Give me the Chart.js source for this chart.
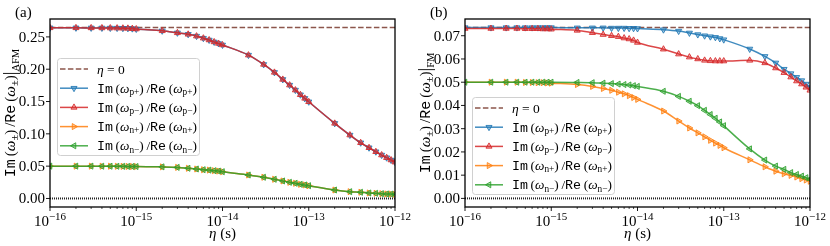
<!DOCTYPE html>
<html>
<head>
<meta charset="utf-8">
<script src="https://cdn.jsdelivr.net/npm/chart.js@4.4.0/dist/chart.umd.min.js"></script>
<style>
  html, body { margin: 0; padding: 0; background: #fff; }
  #wrap { position: relative; width: 830px; height: 246px; }
  .panel { position: absolute; top: 0; width: 415px; height: 246px; }
</style>
</head>
<body>
<div id="wrap">
  <div class="panel" style="left:0"><canvas id="chartA" width="415" height="246"></canvas></div>
  <div class="panel" style="left:415px"><canvas id="chartB" width="415" height="246"></canvas></div>
</div>
<script>
// damping eta (s), markers at 1..9 per decade
const eta = [
  1e-16, 2e-16, 3e-16, 4e-16, 5e-16, 6e-16, 7e-16, 8e-16, 9e-16,
  1e-15, 2e-15, 3e-15, 4e-15, 5e-15, 6e-15, 7e-15, 8e-15, 9e-15,
  1e-14, 2e-14, 3e-14, 4e-14, 5e-14, 6e-14, 7e-14, 8e-14, 9e-14,
  1e-13, 2e-13, 3e-13, 4e-13, 5e-13, 6e-13, 7e-13, 8e-13, 9e-13,
  1e-12,
];

// (a) AFM
const afmPPlus = [
  0.2640, 0.2640, 0.2639, 0.2638, 0.2637, 0.2636, 0.2634, 0.2632, 0.2628,
  0.2622, 0.2594, 0.2563, 0.2540, 0.2512, 0.2480, 0.2452, 0.2422, 0.2398,
  0.2375, 0.2218, 0.2074, 0.1951, 0.1842, 0.1754, 0.1677, 0.1605, 0.1549,
  0.1496, 0.1162, 0.0981, 0.0862, 0.0785, 0.0723, 0.0672, 0.0631, 0.0595,
  0.0562,
];
const afmPMinus = [
  0.2640, 0.2640, 0.2639, 0.2638, 0.2637, 0.2636, 0.2634, 0.2632, 0.2628,
  0.2622, 0.2594, 0.2563, 0.2540, 0.2512, 0.2480, 0.2452, 0.2422, 0.2398,
  0.2375, 0.2218, 0.2074, 0.1951, 0.1842, 0.1754, 0.1677, 0.1605, 0.1549,
  0.1496, 0.1162, 0.0981, 0.0862, 0.0785, 0.0723, 0.0672, 0.0631, 0.0595,
  0.0562,
];
const afmNPlus = [
  0.0500, 0.0500, 0.0500, 0.0499, 0.0499, 0.0498, 0.0497, 0.0496, 0.0495,
  0.0494, 0.0489, 0.0481, 0.0467, 0.0456, 0.0445, 0.0439, 0.0430, 0.0424,
  0.0414, 0.0363, 0.0328, 0.0297, 0.0271, 0.0250, 0.0235, 0.0219, 0.0209,
  0.0198, 0.0131, 0.0105, 0.0096, 0.0085, 0.0080, 0.0074, 0.0070, 0.0068,
  0.0065,
];
const afmNMinus = [
  0.0500, 0.0500, 0.0500, 0.0499, 0.0499, 0.0498, 0.0497, 0.0496, 0.0495,
  0.0494, 0.0489, 0.0481, 0.0467, 0.0456, 0.0445, 0.0439, 0.0430, 0.0424,
  0.0414, 0.0363, 0.0328, 0.0297, 0.0271, 0.0250, 0.0235, 0.0219, 0.0209,
  0.0198, 0.0131, 0.0105, 0.0096, 0.0085, 0.0080, 0.0074, 0.0070, 0.0068,
  0.0065,
];
const afmEtaZero = 0.2645;

// (b) FM
const fmPPlus = [
  0.0735, 0.0735, 0.0735, 0.0735, 0.0735, 0.0735, 0.0735, 0.0735, 0.0735,
  0.0735, 0.0734, 0.0734, 0.0734, 0.0733, 0.0733, 0.0733, 0.0732, 0.0732,
  0.0731, 0.0726, 0.0720, 0.0712, 0.0705, 0.0700, 0.0696, 0.0693, 0.0688,
  0.0683, 0.0643, 0.0611, 0.0583, 0.0556, 0.0537, 0.0521, 0.0507, 0.0492,
  0.0477,
];
const fmPMinus = [
  0.0731, 0.0731, 0.0731, 0.0731, 0.0730, 0.0730, 0.0730, 0.0729, 0.0729,
  0.0728, 0.0723, 0.0713, 0.0705, 0.0700, 0.0696, 0.0690, 0.0686, 0.0680,
  0.0671, 0.0642, 0.0621, 0.0608, 0.0600, 0.0594, 0.0592, 0.0591, 0.0591,
  0.0591, 0.0594, 0.0583, 0.0561, 0.0541, 0.0522, 0.0505, 0.0492, 0.0478,
  0.0465,
];
const fmNPlus = [
  0.0500, 0.0500, 0.0500, 0.0500, 0.0499, 0.0499, 0.0498, 0.0498, 0.0497,
  0.0496, 0.0490, 0.0482, 0.0473, 0.0465, 0.0457, 0.0450, 0.0442, 0.0434,
  0.0426, 0.0376, 0.0333, 0.0303, 0.0282, 0.0265, 0.0250, 0.0238, 0.0228,
  0.0218, 0.0166, 0.0136, 0.0117, 0.0106, 0.0099, 0.0092, 0.0085, 0.0079,
  0.0074,
];
const fmNMinus = [
  0.0500, 0.0500, 0.0500, 0.0500, 0.0500, 0.0500, 0.0500, 0.0500, 0.0500,
  0.0500, 0.0499, 0.0498, 0.0496, 0.0494, 0.0492, 0.0490, 0.0488, 0.0485,
  0.0482, 0.0461, 0.0439, 0.0418, 0.0399, 0.0379, 0.0361, 0.0345, 0.0329,
  0.0313, 0.0213, 0.0165, 0.0139, 0.0125, 0.0111, 0.0103, 0.0096, 0.0089,
  0.0083,
];
const fmEtaZero = 0.0735;

// ticks
const xMajorTicks = [1e-16, 1e-15, 1e-14, 1e-13, 1e-12];
const xTickExponents = ['\u221216', '\u221215', '\u221214', '\u221213', '\u221212'];
const yTicksA = [0.00, 0.05, 0.10, 0.15, 0.20, 0.25];
const yTicksB = [0.00, 0.01, 0.02, 0.03, 0.04, 0.05, 0.06, 0.07];
const seriesSubs = ['p+', 'p\u2212', 'n+', 'n\u2212'];

const SERIF = '"Liberation Serif", "DejaVu Serif", serif';
const MONO = '"Liberation Mono", "DejaVu Sans Mono", monospace';

const colors = [
  [31, 119, 180],   // p+
  [214, 39, 40],    // p-
  [255, 127, 14],   // n+
  [44, 160, 44],    // n-
];
const rotations = [180, 0, 90, 270];
const BROWN = '#8c564b';

function rgba(c, a) {
  return `rgba(${c[0]},${c[1]},${c[2]},${a})`;
}

function font(size, family, style) {
  return (style ? style + ' ' : '') + size + 'px ' + family;
}

function drawRich(ctx, segs, x, y, align) {
  let w = 0;
  segs.forEach((s) => {
    ctx.font = s.f;
    s.w = ctx.measureText(s.t).width;
    w += s.w;
  });
  let cx = align === 'center' ? x - w / 2 : align === 'right' ? x - w : x;
  segs.forEach((s) => {
    ctx.font = s.f;
    ctx.fillText(s.t, cx, y + (s.dy || 0));
    cx += s.w;
  });
  return w;
}

function ratioSegs(sub, size) {
  const s = size * 0.7;
  return [
    { t: 'Im', f: font(size, MONO) },
    { t: '\u2009(', f: font(size, SERIF) },
    { t: '\u03c9', f: font(size, SERIF, 'italic') },
    { t: sub, f: font(s, SERIF), dy: size * 0.25 },
    { t: ')\u2009/', f: font(size, SERIF) },
    { t: 'Re', f: font(size, MONO) },
    { t: '\u2009(', f: font(size, SERIF) },
    { t: '\u03c9', f: font(size, SERIF, 'italic') },
    { t: sub, f: font(s, SERIF), dy: size * 0.25 },
    { t: ')', f: font(size, SERIF) },
  ];
}

function seg(ctx, x1, y1, x2, y2) {
  ctx.beginPath();
  ctx.moveTo(x1, y1);
  ctx.lineTo(x2, y2);
  ctx.stroke();
}

const decor = {
  id: 'decor',
  afterDatasetsDraw(chart, args, opts) {
    const ctx = chart.ctx;
    const a = chart.chartArea;
    const xs = chart.scales.x;
    const ys = chart.scales.y;
    ctx.save();

    // legend
    const lx = opts.legendX, ly = opts.legendY;
    ctx.beginPath();
    ctx.roundRect(lx + 0.5, ly + 0.5, 142, 97, 3);
    ctx.fillStyle = 'rgba(255,255,255,0.8)';
    ctx.fill();
    ctx.strokeStyle = '#d0d0d0';
    ctx.lineWidth = 1;
    ctx.stroke();

    const rowY = [11, 30.2, 49.4, 68.6, 87.8].map((d) => ly + d);
    ctx.textBaseline = 'middle';
    // eta = 0 row
    ctx.strokeStyle = BROWN;
    ctx.lineWidth = 1.5;
    ctx.setLineDash([5.5, 2.4]);
    seg(ctx, lx + 3, rowY[0], lx + 31, rowY[0]);
    ctx.setLineDash([]);
    ctx.fillStyle = '#000';
    drawRich(ctx, [
      { t: '\u03b7', f: font(13.5, SERIF, 'italic') },
      { t: ' = 0', f: font(13.5, SERIF) },
    ], lx + 40, rowY[0] + 1, 'left');

    seriesSubs.forEach((sub, i) => {
      const y = rowY[i + 1];
      ctx.strokeStyle = rgba(colors[i], 0.85);
      ctx.lineWidth = 1.5;
      seg(ctx, lx + 3, y, lx + 31, y);
      ctx.fillStyle = rgba(colors[i], 0.4);
      ctx.strokeStyle = rgba(colors[i], 0.85);
      ctx.lineWidth = 1;
      Chart.helpers.drawPoint(ctx, {
        pointStyle: 'triangle', rotation: rotations[i], radius: 3.5, borderWidth: 1,
      }, lx + 17, y);
      ctx.fillStyle = '#000';
      drawRich(ctx, ratioSegs(sub, 13.3), lx + 40, y + 1, 'left');
    });

    // frame
    ctx.strokeStyle = '#000';
    ctx.lineWidth = 1.3;
    ctx.strokeRect(a.left, a.top, a.right - a.left, a.bottom - a.top);

    // x ticks
    ctx.lineWidth = 0.9;
    ctx.fillStyle = '#000';
    ctx.textBaseline = 'alphabetic';
    xMajorTicks.forEach((v, i) => {
      const px = xs.getPixelForValue(v);
      seg(ctx, px, a.bottom, px, a.bottom + 4);
      drawRich(ctx, [
        { t: '10', f: font(15, SERIF) },
        { t: xTickExponents[i], f: font(11, SERIF), dy: -6 },
      ], px, a.bottom + 19, 'center');
      if (i < xMajorTicks.length - 1) {
        for (let m = 2; m <= 9; m++) {
          const mx = xs.getPixelForValue(v * m);
          ctx.lineWidth = 0.7;
          seg(ctx, mx, a.bottom, mx, a.bottom + 2);
          ctx.lineWidth = 0.9;
        }
      }
    });

    // y ticks
    ctx.textAlign = 'right';
    ctx.textBaseline = 'middle';
    ctx.font = font(15, SERIF);
    opts.yTicks.forEach((v) => {
      const py = ys.getPixelForValue(v);
      seg(ctx, a.left - 4, py, a.left, py);
      ctx.fillText(v.toFixed(2), a.left - 5, py + 1);
    });
    ctx.textAlign = 'left';

    // axis titles
    ctx.textBaseline = 'alphabetic';
    drawRich(ctx, [
      { t: '\u03b7', f: font(15, SERIF, 'italic') },
      { t: ' (s)', f: font(15, SERIF) },
    ], (a.left + a.right) / 2, 238, 'center');

    ctx.save();
    ctx.translate(14.5, (a.top + a.bottom) / 2);
    ctx.rotate(-Math.PI / 2);
    drawRich(ctx, ratioSegs('\u00b1', 15).concat([
      { t: '|', f: font(18.5, SERIF), dy: 1.5 },
      { t: opts.ySub, f: font(10.5, SERIF), dy: 4 },
    ]), 0, 0, 'center');
    ctx.restore();

    // panel label
    ctx.font = font(15, SERIF);
    ctx.fillText(opts.panel, 15, 17);

    ctx.restore();
  },
};

function points(ys) {
  return eta.map((x, i) => ({ x, y: ys[i] }));
}

function makePanel(canvasId, series, etaZero, yMin, yMax, decorOpts) {
  const datasets = [
    {
      data: [{ x: eta[0], y: 0 }, { x: eta[eta.length - 1], y: 0 }],
      borderColor: '#222',
      borderWidth: 2,
      borderDash: [1, 1],
      pointRadius: 0,
      order: 6,
    },
    {
      data: [{ x: eta[0], y: etaZero }, { x: eta[eta.length - 1], y: etaZero }],
      borderColor: BROWN,
      borderWidth: 1.5,
      borderDash: [5.5, 2.4],
      pointRadius: 0,
      order: 5,
    },
  ];
  series.forEach((ys, i) => {
    datasets.push({
      data: points(ys),
      borderColor: rgba(colors[i], 0.85),
      borderWidth: 1.5,
      pointStyle: 'triangle',
      pointRotation: rotations[i],
      pointRadius: 3.5,
      pointBorderWidth: 1,
      pointBorderColor: rgba(colors[i], 0.85),
      pointBackgroundColor: rgba(colors[i], 0.4),
      cubicInterpolationMode: 'monotone',
      order: 3 - i,
    });
  });

  return new Chart(document.getElementById(canvasId), {
    type: 'line',
    data: { datasets },
    options: {
      responsive: false,
      animation: false,
      devicePixelRatio: 1,
      layout: { padding: { left: 50, top: 19, right: 20, bottom: 39 } },
      scales: {
        x: { type: 'logarithmic', min: 1e-16, max: 1e-12, display: false },
        y: { type: 'linear', min: yMin, max: yMax, display: false },
      },
      plugins: {
        legend: { display: false },
        tooltip: { enabled: false },
        decor: decorOpts,
      },
    },
    plugins: [decor],
  });
}

makePanel('chartA', [afmPPlus, afmPMinus, afmNPlus, afmNMinus], afmEtaZero, -0.0132, 0.2777, {
  panel: '(a)', ySub: 'AFM', yTicks: yTicksA, legendX: 57, legendY: 58,
});
makePanel('chartB', [fmPPlus, fmPMinus, fmNPlus, fmNMinus], fmEtaZero, -0.0037, 0.0772, {
  panel: '(b)', ySub: 'FM', yTicks: yTicksB, legendX: 57, legendY: 97,
});
</script>
</body>
</html>
